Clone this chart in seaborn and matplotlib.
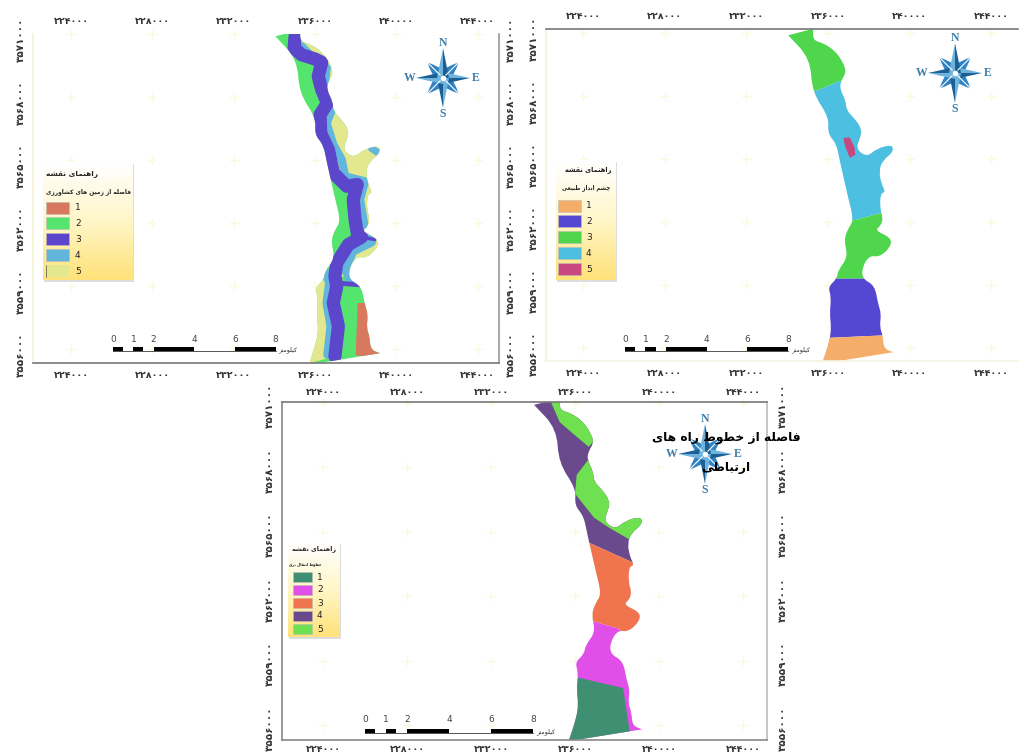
import numpy as np
import matplotlib
matplotlib.use("Agg")
import matplotlib.pyplot as plt
from matplotlib.colors import LinearSegmentedColormap
from matplotlib.patches import PathPatch, Rectangle
from matplotlib.path import Path
from matplotlib.transforms import ScaledTranslation
import seaborn as sns

# grid ticks, km
east_ticks = [224, 228, 232, 236, 240, 244]
north_ticks = [3556, 3559, 3562, 3565, 3568, 3571]
scale_km = [0, 1, 2, 4, 6, 8]
scale_black = [(0, 0.5), (1, 1.5), (2, 4), (6, 8)]
classes = ["1", "2", "3", "4", "5"]

# river outline, km (a repeated vertex keeps that corner sharp)
river_e = [234.05, 234.05, 235.27, 235.27, 235.27, 235.76, 236.33, 236.73, 236.90, 236.65, 236.57, 236.87, 236.90, 237.31,
           237.65, 237.60, 237.36, 237.91, 238.37, 239.15, 239.20, 238.69, 238.50, 238.61, 238.83, 238.56,
           238.56, 238.69, 238.61, 238.29, 239.10, 239.07, 238.53, 238.04, 237.68, 237.68, 238.29, 238.45,
           238.61, 238.53, 238.69, 238.73, 239.20, 239.20, 235.70, 235.70, 236.08, 236.16, 236.08, 236.16, 236.00, 236.44,
           236.49, 236.98, 236.78, 236.98, 237.26, 236.98, 236.57, 236.41, 235.98, 236.05, 235.22, 235.13]
river_n = [3570.89, 3570.89, 3571.20, 3571.20, 3570.65, 3570.52, 3570.17, 3569.62, 3569.14, 3568.74, 3568.35, 3567.79, 3567.32, 3566.92,
           3566.44, 3566.05, 3565.49, 3565.09, 3565.49, 3565.70, 3565.33, 3564.94, 3564.46, 3563.83, 3563.43, 3563.35,
           3562.56, 3562.24, 3561.84, 3561.60, 3561.25, 3560.81, 3560.33, 3560.41, 3559.86, 3559.30, 3558.98, 3558.11,
           3557.64, 3557.00, 3556.60, 3555.97, 3555.80, 3555.80, 3555.25, 3555.25, 3556.37, 3557.00, 3557.64, 3558.43, 3558.91, 3559.30,
           3559.70, 3560.33, 3561.13, 3561.68, 3562.08, 3563.19, 3564.94, 3565.73, 3566.21, 3567.00, 3568.19, 3569.78]

# panel 1: bands along the river
p1_base_e = [233, 241, 241, 233]
p1_base_n = [3572, 3572, 3555, 3555]
band3_e = [235.02, 234.97, 235.34, 236.00, 236.33, 236.16, 236.33, 236.61, 236.25, 236.28, 236.66, 236.90, 237.56,
           238.08, 237.88, 237.97, 238.08, 238.29, 237.64, 237.07, 236.98, 237.07, 236.90, 237.15, 236.98]
band3_n = [3570.89, 3570.33, 3570.01, 3569.81, 3569.65, 3568.98, 3568.35, 3567.71, 3567.16, 3566.28, 3565.49, 3564.38, 3563.75,
           3563.83, 3563.11, 3562.16, 3561.52, 3561.33, 3560.97, 3560.10, 3559.46, 3558.98, 3558.19, 3557.08, 3555.65]
spur3_e = [238.08, 238.95]
spur3_n = [3561.37, 3561.21]
branch3_e = [237.07, 238.18]
branch3_n = [3559.14, 3559.06]
band4_e = [235.34, 235.75, 236.57, 236.49, 236.82, 236.90, 236.57, 236.90, 237.31, 237.48, 238.46, 238.21, 238.38,
           238.46, 238.79, 237.88, 237.48, 237.72]
band4_n = [3570.41, 3570.01, 3569.38, 3568.74, 3567.95, 3567.56, 3566.76, 3565.73, 3565.02, 3564.22, 3563.98, 3563.11, 3562.16,
           3561.52, 3561.08, 3560.65, 3559.78, 3559.30]
band4_low_e = [236.49, 236.70, 236.57, 236.77, 236.61]
band4_low_n = [3559.70, 3559.14, 3558.19, 3557.08, 3555.73]
tip4_e = [238.78, 239.25]
tip4_n = [3565.55, 3565.25]
class1_p1_e = [238.10, 240.00, 240.00, 238.00, 238.05]
class1_p1_n = [3558.19, 3558.19, 3555.50, 3555.70, 3556.90]

# panel 2: class limits across the river
p2_green_e = [233, 235.27, 236.65, 241, 241, 233]
p2_green_n = [3568.19, 3568.19, 3568.74, 3568.74, 3572, 3572]
p2_blue_e = [233, 235.27, 236.65, 241, 241, 238.61, 237.26, 233]
p2_blue_n = [3568.19, 3568.19, 3568.74, 3568.74, 3562.43, 3562.43, 3562.08, 3562.08]
p2_green2_e = [233, 237.26, 238.61, 241, 241, 233]
p2_green2_n = [3562.08, 3562.08, 3562.43, 3562.43, 3559.30, 3559.30]
p2_purple_e = [233, 241, 241, 238.69, 236.16, 233]
p2_purple_n = [3559.30, 3559.30, 3556.60, 3556.60, 3556.49, 3556.49]
p2_orange_e = [233, 236.16, 238.69, 241, 241, 233]
p2_orange_n = [3556.49, 3556.49, 3556.60, 3556.60, 3555, 3555]
p2_pink_e = [236.75, 237.07, 237.29, 237.34, 237.07, 236.85]
p2_pink_n = [3566.00, 3566.03, 3565.57, 3565.20, 3565.05, 3565.57]

# panel 3: class limits across the river
p3_purple_e = [233, 241, 241, 233]
p3_purple_n = [3572, 3572, 3562.57, 3566.09]
p3_green_a_e = [234.74, 235.27, 235.92, 236.65, 237.22, 237.22]
p3_green_a_n = [3571.28, 3570.09, 3569.54, 3568.94, 3569.54, 3571.28]
p3_green_b_e = [236.70, 236.08, 236.00, 236.90, 237.63, 238.61, 239.51, 239.51]
p3_green_b_n = [3568.43, 3567.63, 3566.76, 3565.65, 3565.17, 3564.62, 3565.25, 3568.43]
p3_orange_e = [233, 241, 241, 238.37, 238.04, 236.90, 233]
p3_orange_n = [3566.09, 3562.57, 3559.90, 3560.25, 3560.49, 3560.81, 3561.00]
p3_magenta_e = [233, 236.90, 238.04, 238.37, 241, 241, 233]
p3_magenta_n = [3561.00, 3560.81, 3560.49, 3560.25, 3559.90, 3555, 3555]
p3_teal_e = [235, 236.21, 238.29, 238.61, 238.61, 235]
p3_teal_n = [3558.40, 3558.19, 3557.72, 3555.65, 3555, 3555]

legend_title = "راهنمای نقشه"
scale_unit = "کیلومتر"
p1_sub = "فاصله از زمین های کشاورزی"
p2_sub = "چشم انداز طبیعی"
p3_sub = "خطوط انتقال برق"
p3_title = ["فاصله از خطوط راه های", "ارتباطی"]

p1_cols = ["#d8785e", "#55e56e", "#5b46cc", "#62b5dc", "#e3e88e"]
p2_cols = ["#f4ae6a", "#5447d2", "#4fd64c", "#4dbfe0", "#c8477f"]
p3_cols = ["#3f8f73", "#e04fe8", "#f0744e", "#6a4a8c", "#6fe04f"]

FORMS = {
    "ا": (0xFE8D, 0xFE8E), "ب": (0xFE8F, 0xFE90, 0xFE91, 0xFE92), "ت": (0xFE95, 0xFE96, 0xFE97, 0xFE98),
    "چ": (0xFB7A, 0xFB7B, 0xFB7C, 0xFB7D), "خ": (0xFEA5, 0xFEA6, 0xFEA7, 0xFEA8), "د": (0xFEA9, 0xFEAA),
    "ر": (0xFEAD, 0xFEAE), "ز": (0xFEAF, 0xFEB0), "ش": (0xFEB5, 0xFEB6, 0xFEB7, 0xFEB8),
    "ص": (0xFEB9, 0xFEBA, 0xFEBB, 0xFEBC), "ط": (0xFEC1, 0xFEC2, 0xFEC3, 0xFEC4), "ع": (0xFEC9, 0xFECA, 0xFECB, 0xFECC),
    "ف": (0xFED1, 0xFED2, 0xFED3, 0xFED4), "ق": (0xFED5, 0xFED6, 0xFED7, 0xFED8), "ک": (0xFB8E, 0xFB8F, 0xFB90, 0xFB91),
    "ل": (0xFEDD, 0xFEDE, 0xFEDF, 0xFEE0), "م": (0xFEE1, 0xFEE2, 0xFEE3, 0xFEE4), "ن": (0xFEE5, 0xFEE6, 0xFEE7, 0xFEE8),
    "و": (0xFEED, 0xFEEE), "ه": (0xFEE9, 0xFEEA, 0xFEEB, 0xFEEC), "ی": (0xFBFC, 0xFBFD, 0xFBFE, 0xFBFF),
}


# matplotlib does no arabic shaping, so pick the glyph forms here
def fa(text):
    out = []
    for i, c in enumerate(text):
        if c not in FORMS:
            out.append(c)
            continue
        prev = text[i - 1] if i else " "
        nxt = text[i + 1] if i + 1 < len(text) else " "
        after = prev in FORMS and len(FORMS[prev]) == 4
        before = nxt in FORMS and len(FORMS[c]) == 4
        if after and before:
            k = 3
        elif before:
            k = 2
        elif after:
            k = 1
        else:
            k = 0
        out.append(chr(FORMS[c][k]))
    return "".join(out[::-1])


def fa_digits(v):
    return str(int(v * 1000)).translate(str.maketrans("0123456789", "۰۱۲۳۴۵۶۷۸۹"))


# outline as a curved path so the river edge is not angular
def river_path():
    v = np.column_stack([river_e, river_n])
    mid = (v + np.roll(v, -1, axis=0)) / 2
    verts = [mid[-1]]
    codes = [Path.MOVETO]
    for i in range(len(v)):
        verts += [v[i], mid[i]]
        codes += [Path.CURVE3, Path.CURVE3]
    return Path(np.array(verts), codes)


sns.set_theme(style="white")
plt.rcParams["font.family"] = ["DejaVu Sans"]
fig = plt.figure(figsize=(10.2, 7.54), dpi=100)


def make_panel(l, r, t, b, x0, y0, sx, sy, frame, pads, right=True, right_shift=0, y_shift=4):
    ax = fig.add_axes([l / 1020, 1 - b / 754, (r - l) / 1020, (b - t) / 754])
    ax.set_xlim(236 + (l - x0) / sx, 236 + (r - x0) / sx)
    ax.set_ylim(3562 + (y0 - b) / sy, 3562 + (y0 - t) / sy)
    gx, gy = np.meshgrid(east_ticks, north_ticks)
    sns.scatterplot(x=gx.ravel(), y=gy.ravel(), marker="+", s=45, color="#fafae0", linewidth=1, ax=ax,
                    clip_on=False, legend=False, zorder=0)
    for side in ["left", "right", "top", "bottom"]:
        ax.spines[side].set_visible(frame[side] is not None)
        if frame[side]:
            ax.spines[side].set_color(frame[side])
            ax.spines[side].set_linewidth(1.2)
    ax.set_xticks(east_ticks, [fa_digits(v) for v in east_ticks], fontsize=6.8, fontweight="bold", color="#333333")
    ax.set_yticks(north_ticks, [fa_digits(v) for v in north_ticks], fontsize=7.5, fontweight="bold", color="#333333",
                  rotation=90, va="center")
    ax.tick_params(axis="x", which="both", length=0, top=True, labeltop=True, bottom=True, labelbottom=True, pad=pads[0])
    ax.tick_params(axis="y", which="both", length=0, right=right, labelright=right, left=True, labelleft=True, pad=pads[1])
    shift = ScaledTranslation(0, -y_shift / 72, fig.dpi_scale_trans)
    for tick in ax.yaxis.get_major_ticks():
        tick.label1.set_transform(tick.label1.get_transform() + shift)
        tick.label2.set_transform(tick.label2.get_transform() + shift
                                  + ScaledTranslation(right_shift / 72, 0, fig.dpi_scale_trans))
    clip = PathPatch(river_path(), fill=False, lw=0, transform=ax.transData)
    ax.add_patch(clip)
    return ax, clip


def zone(ax, clip, e, n, color):
    for p in ax.fill(e, n, color=color, lw=0):
        p.set_clip_path(clip)


def band(ax, clip, e, n, color, lw):
    sns.lineplot(x=e, y=n, sort=False, estimator=None, color=color, lw=lw, ax=ax, legend=False,
                 solid_capstyle="round", solid_joinstyle="round")
    ax.lines[-1].set_clip_path(clip)


# panel 1
frame1 = {"left": "#f3f3cf", "right": "#999999", "top": None, "bottom": "#777777"}
ax1, clip1 = make_panel(33, 499, 34, 363, 315, 223, 20.33, 21, frame1, (6, 5))
zone(ax1, clip1, p1_base_e, p1_base_n, p1_cols[1])
zone(ax1, clip1, band3_e[:21] + [241, 241], band3_n[:21] + [3559.3, 3572], p1_cols[4])
zone(ax1, clip1, band3_e[20:] + [234.5, 234.5], band3_n[20:] + [3555, 3559.46], p1_cols[4])
zone(ax1, clip1, class1_p1_e, class1_p1_n, p1_cols[0])
band(ax1, clip1, band4_e, band4_n, p1_cols[3], 6)
band(ax1, clip1, band4_low_e, band4_low_n, p1_cols[3], 6)
band(ax1, clip1, tip4_e, tip4_n, p1_cols[3], 5)
band(ax1, clip1, band3_e, band3_n, p1_cols[2], 9.5)
band(ax1, clip1, spur3_e, spur3_n, p1_cols[2], 2.5)
band(ax1, clip1, branch3_e, branch3_n, p1_cols[2], 3.5)

# panel 2
frame2 = {"left": "#f3f3cf", "right": None, "top": "#777777", "bottom": "#f3f3e0"}
ax2, clip2 = make_panel(546, 1018, 29, 361, 828, 222, 20.4, 21, frame2, (6, 5), right=False)
zone(ax2, clip2, p2_green_e, p2_green_n, p2_cols[2])
zone(ax2, clip2, p2_blue_e, p2_blue_n, p2_cols[3])
zone(ax2, clip2, p2_green2_e, p2_green2_n, p2_cols[2])
zone(ax2, clip2, p2_purple_e, p2_purple_n, p2_cols[1])
zone(ax2, clip2, p2_orange_e, p2_orange_n, p2_cols[0])
zone(ax2, clip2, p2_pink_e, p2_pink_n, p2_cols[4])

# panel 3
frame3 = {"left": "#888888", "right": "#bbbbbb", "top": "#777777", "bottom": "#888888"}
ax3, clip3 = make_panel(282, 767, 402, 740, 575, 596, 21, 21.5, frame3, (3.5, 5), right_shift=3, y_shift=2.5)
zone(ax3, clip3, p3_purple_e, p3_purple_n, p3_cols[3])
zone(ax3, clip3, p3_green_a_e, p3_green_a_n, p3_cols[4])
zone(ax3, clip3, p3_green_b_e, p3_green_b_n, p3_cols[4])
zone(ax3, clip3, p3_orange_e, p3_orange_n, p3_cols[2])
zone(ax3, clip3, p3_magenta_e, p3_magenta_n, p3_cols[1])
zone(ax3, clip3, p3_teal_e, p3_teal_n, p3_cols[0])

# overlay in picture pixels for legend, scale bar, north arrow
top = fig.add_axes([0, 0, 1, 1], zorder=5)
top.set_xlim(0, 1020)
top.set_ylim(754, 0)
top.axis("off")
top.patch.set_alpha(0)
yellow = LinearSegmentedColormap.from_list("lg", ["#ffffff", "#fff6c8", "#ffe27a"])
grad = np.linspace(0, 1, 64).reshape(-1, 1)


def legend(box, title_xy, sub_xy, sub, sw_x, rows, sw_h, num_x, cols, fs, pale_last=False):
    l, t, r, b = box
    top.add_patch(Rectangle((l + 1.5, t + 1.5), r - l, b - t, color="#dddddd", lw=0, zorder=1))
    top.imshow(grad, cmap=yellow, extent=(l, r, b, t), aspect="auto", zorder=2)
    top.text(title_xy[0], title_xy[1], fa(legend_title), fontsize=fs[0], fontweight="bold", color="#222222",
             ha="right", va="center", zorder=3)
    top.text(sub_xy[0], sub_xy[1], fa(sub), fontsize=fs[1], fontweight="bold", color="#222222",
             ha="right", va="center", zorder=3)
    for i, (y, lab) in enumerate(zip(rows, classes)):
        edge = "none" if pale_last and i == 4 else "#bbbbbb"
        top.add_patch(Rectangle((sw_x[0], y - sw_h / 2), sw_x[1] - sw_x[0], sw_h, facecolor=cols[i],
                                edgecolor=edge, lw=0.4, zorder=3))
        if pale_last and i == 4:
            top.plot([sw_x[0], sw_x[0]], [y - sw_h / 2, y + sw_h / 2], color="#555555", lw=0.5, zorder=4)
        top.text(num_x, y, lab, fontsize=6.5, color="#222222", va="center", zorder=3)
    top.set_xlim(0, 1020)
    top.set_ylim(754, 0)


legend((43, 162, 133, 280), (98, 174), (131, 192), p1_sub, (46, 69), [208, 223, 239, 255, 271], 11.5, 75, p1_cols,
       (5.3, 4.2), pale_last=True)
legend((556, 160, 616, 280), (612, 170), (610, 188), p2_sub, (558, 581), [206, 221, 237, 253, 269], 11.5, 586, p2_cols,
       (4.8, 4.0))
legend((288, 542, 340, 637), (336, 549), (322, 564), p3_sub, (293, 312), [577, 590, 603, 616, 629], 10, 317, p3_cols,
       (4.5, 2.6))


def scale_bar(x0, px_km, y, lab_y):
    end = x0 + 8 * px_km
    top.plot([x0, end], [y + 2, y + 2], color="#555555", lw=0.7)
    for a, b in scale_black:
        top.add_patch(Rectangle((x0 + a * px_km, y - 2), (b - a) * px_km, 4.5, color="black", lw=0))
    for km in scale_km:
        top.text(x0 + km * px_km, lab_y, str(km), fontsize=6.5, color="#444444", ha="center", va="center")
    top.text(end + 3, y + 1, fa(scale_unit), fontsize=4.6, color="#333333", ha="left", va="center")


scale_bar(113, 20.33, 349, 339)
scale_bar(625, 20.4, 349, 340)
scale_bar(365, 21, 731, 720)


def compass(cx, cy):
    for a in np.arange(45, 360, 90):
        ang = np.radians([a - 32, a - 8, a, a + 8, a + 32])
        rr = [10, 17, 22, 17, 10]
        top.fill(cx + np.r_[0, np.multiply(rr, np.cos(ang))], cy + np.r_[0, np.multiply(rr, np.sin(ang))],
                 color="#2f83c4", lw=0)
        top.plot([cx + 4 * np.cos(np.radians(a)), cx + 22 * np.cos(np.radians(a))],
                 [cy + 4 * np.sin(np.radians(a)), cy + 22 * np.sin(np.radians(a))], color="white", lw=0.8)
    for a, arm in [(0, 27), (90, 30), (180, 27), (270, 30)]:
        ang = np.radians(a)
        side = ang + np.pi / 2
        tip = (cx + arm * np.cos(ang), cy + arm * np.sin(ang))
        p1 = (cx + 6 * np.cos(side), cy + 6 * np.sin(side))
        p2 = (cx - 6 * np.cos(side), cy - 6 * np.sin(side))
        top.fill([p1[0], tip[0], cx], [p1[1], tip[1], cy], color="#1c5f94", lw=0)
        top.fill([p2[0], tip[0], cx], [p2[1], tip[1], cy], color="#6fb3dd", lw=0)
    top.scatter([cx], [cy], s=16, color="white", lw=0, zorder=4)
    for s, dx, dy in [("N", 0, -35), ("S", 0, 36), ("W", -33, 0), ("E", 33, 0)]:
        top.text(cx + dx, cy + dy, s, fontsize=8.5, fontweight="bold", family="Liberation Serif",
                 color="#3f7ea8", ha="center", va="center")


compass(443, 78)
compass(955, 73)
compass(705, 454)

for line, y in zip(p3_title, [438, 467]):
    top.text(726, y, fa(line), fontsize=8.8, fontweight="bold", color="black", ha="center", va="center", zorder=6)

fig.savefig("out.png", dpi=100)
